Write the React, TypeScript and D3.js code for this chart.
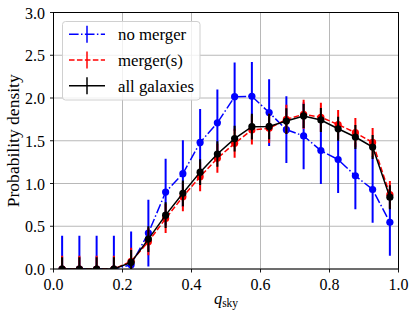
import React from "react";
import * as d3 from "d3";

const xCenters = [0.025, 0.075, 0.125, 0.175, 0.225, 0.275, 0.325, 0.375, 0.425, 0.475, 0.525, 0.575, 0.625, 0.675, 0.725, 0.775, 0.825, 0.875, 0.925, 0.975];

const noMerger = [0, 0, 0, 0, 0.05, 0.42, 0.9, 1.115, 1.48, 1.71, 2.015, 2.02, 1.83, 1.63, 1.556, 1.385, 1.28, 1.09, 0.93, 0.546];
const noMergerErr = [0.39, 0.39, 0.39, 0.39, 0.39, 0.39, 0.39, 0.39, 0.39, 0.39, 0.4, 0.4, 0.39, 0.39, 0.39, 0.39, 0.39, 0.39, 0.39, 0.39];

const mergers = [0, 0, 0, 0, 0.09, 0.32, 0.59, 0.845, 1.08, 1.295, 1.47, 1.626, 1.645, 1.75, 1.81, 1.775, 1.69, 1.595, 1.48, 0.87];
const mergersErr = [0.155, 0.155, 0.155, 0.155, 0.16, 0.16, 0.17, 0.17, 0.17, 0.17, 0.17, 0.17, 0.17, 0.17, 0.17, 0.17, 0.17, 0.17, 0.17, 0.16];

const allGal = [0, 0, 0, 0, 0.078, 0.35, 0.63, 0.885, 1.133, 1.345, 1.525, 1.665, 1.667, 1.73, 1.79, 1.743, 1.64, 1.544, 1.427, 0.84];
const allGalErr = [0.137, 0.137, 0.137, 0.137, 0.145, 0.15, 0.15, 0.15, 0.15, 0.15, 0.15, 0.15, 0.15, 0.15, 0.14, 0.14, 0.14, 0.14, 0.14, 0.14];

const xTicks = [0.0, 0.2, 0.4, 0.6, 0.8, 1.0];
const yTicks = [0.0, 0.5, 1.0, 1.5, 2.0, 2.5, 3.0];
const seriesNames = ["no merger", "merger(s)", "all galaxies"];

const W = 416, H = 318;
const L = 53.5, R = 398.5, T = 12.5, B = 269;
const FONT = "'Liberation Serif', 'DejaVu Serif', serif";

export default function App() {
  const x = d3.scaleLinear().domain([0, 1]).range([L, R]);
  const y = d3.scaleLinear().domain([0, 3]).range([B, T]);
  const series = [
    { name: seriesNames[0], vals: noMerger, err: noMergerErr, color: "#0000ff", dash: "9.6,2.4,1.5,2.4" },
    { name: seriesNames[1], vals: mergers, err: mergersErr, color: "#ff0000", dash: "5.55,2.4" },
    { name: seriesNames[2], vals: allGal, err: allGalErr, color: "#000000", dash: undefined as string | undefined },
  ];
  const line = d3.line<number>().x((_, i) => x(xCenters[i])).y((d) => y(d));

  return (
    <svg width={W} height={H} style={{ position: "absolute", left: 0, top: 0, background: "#fff" }}>
      <defs>
        <clipPath id="plotclip">
          <rect x={L} y={T} width={R - L} height={B - T} />
        </clipPath>
      </defs>
      {/* grid */}
      {xTicks.map((t) => (
        <line key={"gx" + t} x1={x(t)} x2={x(t)} y1={T} y2={B} stroke="#b0b0b0" strokeWidth={0.9} />
      ))}
      {yTicks.map((t) => (
        <line key={"gy" + t} x1={L} x2={R} y1={y(t)} y2={y(t)} stroke="#b0b0b0" strokeWidth={0.9} />
      ))}
      <g clipPath="url(#plotclip)">
        {series.map((s) => (
          <g key={s.name}>
            {s.vals.map((v, i) => (
              <line key={i} x1={x(xCenters[i])} x2={x(xCenters[i])} y1={y(v - s.err[i])} y2={y(v + s.err[i])} stroke={s.color} strokeWidth={2} />
            ))}
            <path d={line(s.vals) || ""} fill="none" stroke={s.color} strokeWidth={1.5} strokeDasharray={s.dash} />
            {s.vals.map((v, i) => (
              <circle key={"c" + i} cx={x(xCenters[i])} cy={y(v)} r={3.6} fill={s.color} />
            ))}
          </g>
        ))}
      </g>
      {/* frame */}
      <rect x={L} y={T} width={R - L} height={B - T} fill="none" stroke="#000" strokeWidth={1} />
      {/* ticks */}
      {xTicks.map((t) => (
        <g key={"tx" + t}>
          <line x1={x(t)} x2={x(t)} y1={B} y2={B + 3.5} stroke="#000" strokeWidth={0.9} />
          <text x={x(t)} y={B + 20.5} textAnchor="middle" fontFamily={FONT} fontSize={16} fill="#000">
            {t.toFixed(1)}
          </text>
        </g>
      ))}
      {yTicks.map((t) => (
        <g key={"ty" + t}>
          <line x1={L - 3.5} x2={L} y1={y(t)} y2={y(t)} stroke="#000" strokeWidth={0.9} />
          <text x={L - 8.5} y={y(t) + 6} textAnchor="end" fontFamily={FONT} fontSize={16} fill="#000">
            {t.toFixed(1)}
          </text>
        </g>
      ))}
      {/* axis labels */}
      <text transform={`translate(18.5,${(T + B) / 2}) rotate(-90)`} textAnchor="middle" fontFamily={FONT} fontSize={16.5} fill="#000" textLength={133} lengthAdjust="spacingAndGlyphs">
        Probability density
      </text>
      <text x={(L + R) / 2} y={304} textAnchor="middle" fontFamily={FONT} fontSize={16.5} fill="#000">
        <tspan fontStyle="italic">q</tspan>
        <tspan fontSize={11.5} dy={2.5}>sky</tspan>
      </text>
      {/* legend */}
      <rect x={62.5} y={21.5} width={137.5} height={78.5} rx={3} fill="#fff" fillOpacity={0.8} stroke="#d0d0d0" strokeWidth={1} />
      {series.map((s, i) => {
        const cy = 34.3 + i * 25.7;
        return (
          <g key={"lg" + s.name}>
            <line x1={69} x2={105} y1={cy} y2={cy} stroke={s.color} strokeWidth={1.5} strokeDasharray={s.dash} />
            <line x1={87} x2={87} y1={cy - 8.5} y2={cy + 8.5} stroke={s.color} strokeWidth={1.5} />
            <text x={118} y={cy + 6} fontFamily={FONT} fontSize={16.8} fill="#000">
              {s.name}
            </text>
          </g>
        );
      })}
    </svg>
  );
}
